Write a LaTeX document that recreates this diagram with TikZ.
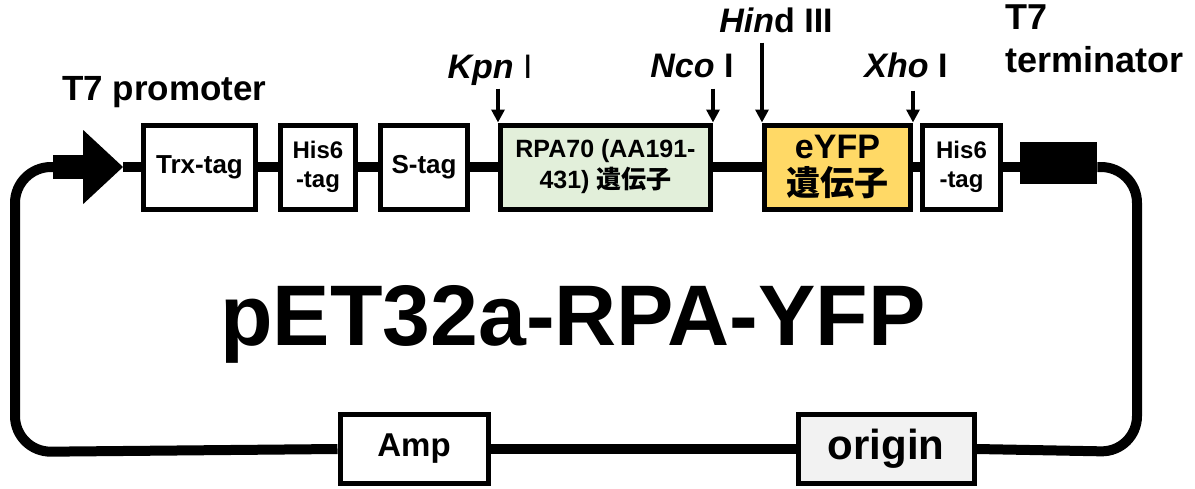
\documentclass[tikz,border=0pt]{standalone}
\usepackage{fontspec}
\setmainfont{Liberation Sans}
\newfontfamily\cjk{Noto Sans CJK JP}
\usepackage{xcolor}
\usetikzlibrary{arrows.meta,positioning}

\definecolor{rpagreen}{HTML}{E2EFDA}
\definecolor{yfpgold}{HTML}{FFD966}
\definecolor{origray}{HTML}{F2F2F2}

\begin{document}
\begin{tikzpicture}[
  x=1pt, y=-1pt,
  node distance=20pt,
  part/.style={rectangle, draw=black, line width=5pt, fill=white,
               minimum height=84pt, inner sep=2pt, align=center,
               font=\bfseries\fontsize{26}{29}\selectfont},
  small/.style={font=\bfseries\fontsize{24}{29}\selectfont},
  blk/.style={rectangle, fill=black, inner sep=0pt},
  wire/.style={line width=10pt, black, rounded corners=36pt},
  cut/.style={-{Triangle[length=13pt,width=13pt]}, line width=3.5pt},
  enz/.style={font=\bfseries\fontsize{34}{38}\selectfont, inner sep=0pt},
  tag/.style={font=\bfseries\fontsize{35}{43}\selectfont, align=left, inner sep=0pt}
]
\useasboundingbox (0,0) rectangle (1195,488);

% promoter and the cassette
\node[blk, minimum width=30pt, minimum height=24pt] (prom) at (68,167) {};
\coordinate (promtip) at (123,167);
\fill ([yshift=37pt]prom.east) -- (promtip) -- ([yshift=-37pt]prom.east) -- cycle;
\node[part, minimum width=112pt] (trx) at (199.5,167) {Trx-tag};
\node[part, small, minimum width=75pt, right=of trx] (his1) {His6\\-tag};
\node[part, minimum width=87pt, right=of his1] (stag) {S-tag};
\node[part, minimum width=210pt, right=28pt of stag, fill=rpagreen,
      font=\bfseries\fontsize{25}{31}\selectfont] (rpa)
  {RPA70 (AA191-\\431) {\cjk 遺伝子}};
\node[part, minimum width=146pt, right=49pt of rpa, fill=yfpgold,
      font=\bfseries\fontsize{34}{37}\selectfont] (yfp) {eYFP\\{\cjk 遺伝子}};
\node[part, small, minimum width=78pt, right=7pt of yfp] (his2) {His6\\-tag};
\node[blk, minimum width=77pt, minimum height=42pt, right=17pt of his2, yshift=4pt] (term) {};

% lower half of the ring
\node[part, minimum width=148pt, minimum height=69pt,
      font=\bfseries\fontsize{33}{38}\selectfont] (amp) at (414,449) {Amp};
\node[part, minimum width=176pt, minimum height=69pt, fill=origray,
      font=\bfseries\fontsize{42}{48}\selectfont] (ori) at (886,449) {origin};

\coordinate (tl) at (15,167);
\coordinate (bl) at (15,452);
\coordinate (br) at (1137,452);
\coordinate (tr) at (1137,167);

\draw[wire] (promtip) -- (trx);
\draw[wire] (trx) -- (his1);
\draw[wire] (his1) -- (stag);
\draw[wire] (stag) -- (rpa);
\draw[wire] (rpa) -- (yfp);
\draw[wire] (yfp) -- (his2);
\draw[wire] (his2.east) -- (his2.east -| term.west);
\draw[wire] (term.east |- tr) -- (tr) -- (br) -- (ori.east);
\draw[wire] (ori.west) -- (amp.east);
\draw[wire] (amp.west) -- (bl) -- (tl) -- (prom.west);

% restriction sites
\coordinate[above=34pt of rpa.north west] (kpnT);
\coordinate[above=34pt of rpa.north east] (ncoT);
\coordinate[above=80pt of yfp.north west] (hindT);
\coordinate[above=32pt of yfp.north east] (xhoT);
\draw[cut] (kpnT) -- (rpa.north west);
\draw[cut] (ncoT) -- (rpa.north east);
\draw[cut] (hindT) -- (yfp.north west);
\draw[cut] (xhoT) -- (yfp.north east);
\node[enz, above=3pt of kpnT, xshift=-8pt] (kpn) {\textit{Kpn} {\mdseries I}};
\node[enz, above=10pt of ncoT, xshift=-21pt] (nco) {\textit{Nco} I};
\node[enz, above=9pt of hindT, xshift=14pt] (hind) {\textit{Hin}d III};
\node[enz, above=12pt of xhoT, xshift=-7pt] (xho) {\textit{Xho} I};

% labels
\node[tag, anchor=base west] (promlbl) at (62,100) {T7 promoter};
\node[tag, anchor=base west, font=\bfseries\fontsize{36}{43}\selectfont] (termlbl) at (1005,72) {T7\\terminator};
\node[font=\bfseries\fontsize{86}{90}\selectfont, anchor=base] (title) at (573,345)
  {pET32a-RPA-YFP};
\end{tikzpicture}
\end{document}
